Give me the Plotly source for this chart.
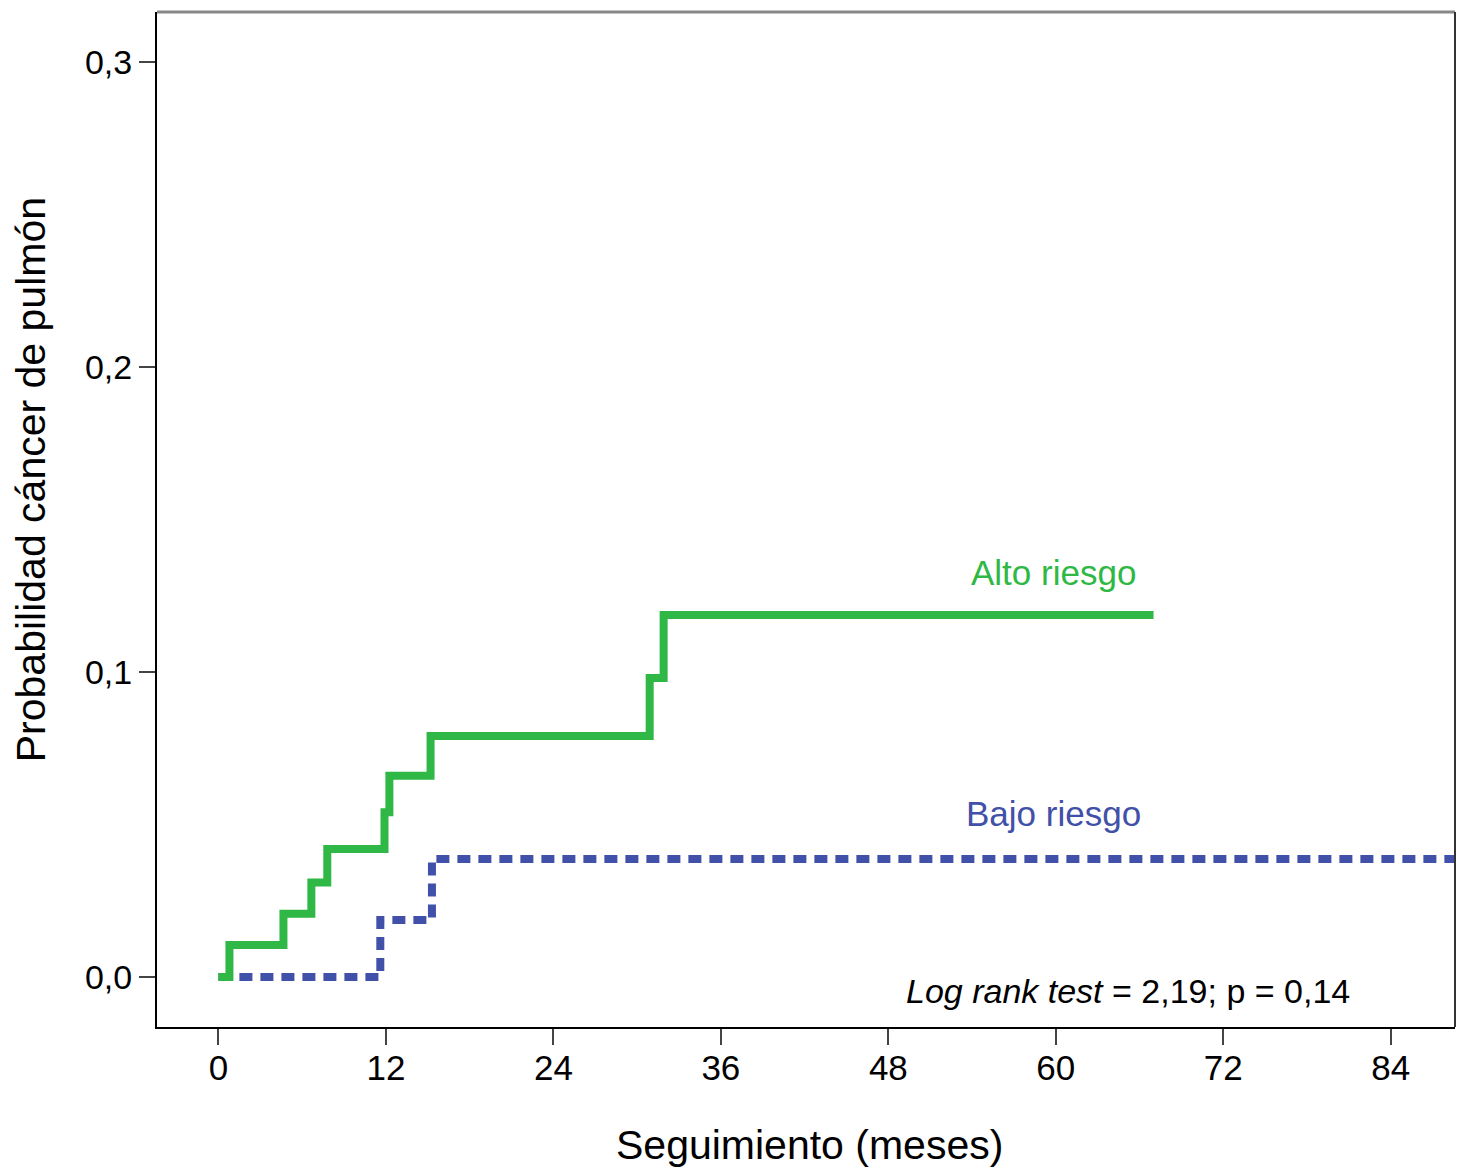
import plotly.graph_objects as go

# Data
alto_t = [0, 0.79, 4.66, 6.66, 7.8, 11.9, 12.25, 15.2, 30.9, 31.9, 67.0]
alto_p = [0, 0.0105, 0.0207, 0.031, 0.042, 0.054, 0.066, 0.079, 0.098, 0.1187, 0.1187]
bajo_t = [0, 11.6, 15.3, 88.6]
bajo_p = [0, 0.0187, 0.0387, 0.0387]

x_ticks = [0, 12, 24, 36, 48, 60, 72, 84]
y_ticks = [0.0, 0.1, 0.2, 0.3]
y_ticklabels = ["0,0", "0,1", "0,2", "0,3"]

GREEN = "#2fb845"
BLUE = "#4150a8"
FONT = "Liberation Sans, Arial, sans-serif"

fig = go.Figure()
fig.add_trace(go.Scatter(x=bajo_t, y=bajo_p, mode="lines", line_shape="hv",
                         line=dict(color=BLUE, width=8, dash="13px,8px"),
                         showlegend=False))
fig.add_trace(go.Scatter(x=alto_t, y=alto_p, mode="lines", line_shape="hv",
                         line=dict(color=GREEN, width=8),
                         showlegend=False))

fig.update_layout(
    width=1460, height=1161,
    margin=dict(l=149, r=13, t=4, b=142, autoexpand=False),
    paper_bgcolor="white", plot_bgcolor="white",
    font=dict(family=FONT, color="black", size=35),
    xaxis=dict(range=[-4.4, 88.6], tickvals=x_ticks, ticktext=[str(v) for v in x_ticks],
               ticks="outside", ticklen=16, tickwidth=2, tickcolor="#444",
               ticklabelstandoff=-7, automargin=False,
               showline=True, linecolor="black", linewidth=2, mirror=False,
               showgrid=False, zeroline=False, tickfont=dict(size=35)),
    yaxis=dict(range=[-0.0164, 0.3164], tickvals=y_ticks, ticktext=y_ticklabels,
               ticks="outside", ticklen=16, tickwidth=2, tickcolor="#444",
               automargin=False,
               showline=True, linecolor="black", linewidth=2, mirror=False,
               showgrid=False, zeroline=False, tickfont=dict(size=34),
               title=dict(text="&nbsp;" * 7 + "Probabilidad cáncer de pulmón",
                          font=dict(size=41), standoff=48)),
    shapes=[
        dict(type="line", xref="paper", yref="paper", x0=0, x1=1, y0=1, y1=1,
             line=dict(color="#888888", width=3)),
        dict(type="line", xref="paper", yref="paper", x0=1, x1=1, y0=0, y1=1,
             line=dict(color="#333333", width=2)),
    ],
    annotations=[
        dict(text="Seguimiento (meses)", xref="paper", yref="paper", x=0.503, y=-0.116,
             showarrow=False, font=dict(size=41), xanchor="center", yanchor="middle"),
        dict(text="Alto riesgo", x=59.8, y=0.1325, xref="x", yref="y", showarrow=False,
             font=dict(size=35, color=GREEN), xanchor="center", yanchor="middle"),
        dict(text="Bajo riesgo", x=59.8, y=0.0535, xref="x", yref="y", showarrow=False,
             font=dict(size=35, color=BLUE), xanchor="center", yanchor="middle"),
        dict(text="<i>Log rank test</i> = 2,19; p = 0,14", x=81.2, y=-0.0045, xref="x", yref="y",
             showarrow=False, font=dict(size=34), xanchor="right", yanchor="middle"),
    ],
)

fig.write_html("out.html")
